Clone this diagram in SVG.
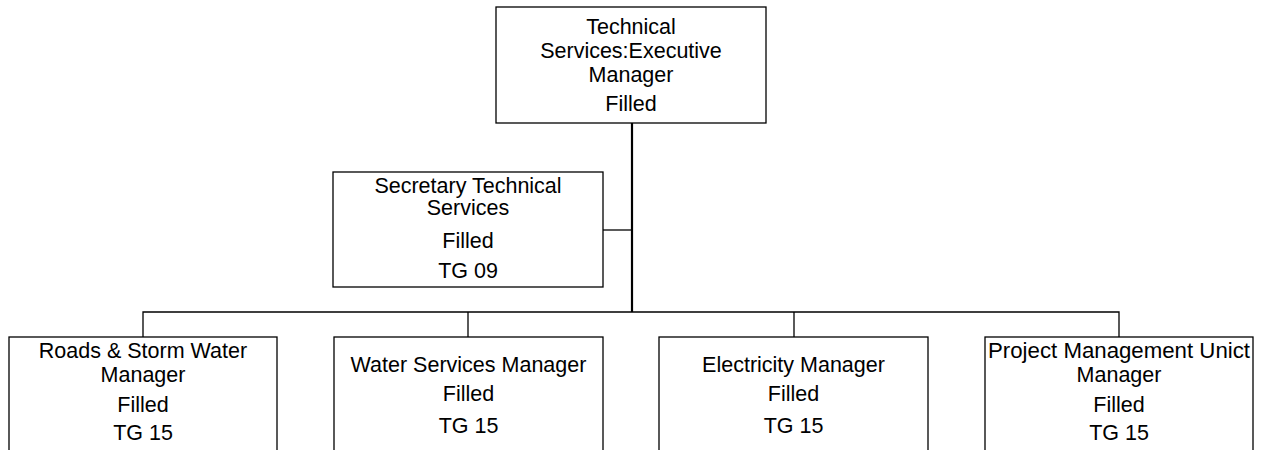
<svg xmlns="http://www.w3.org/2000/svg" width="1266" height="450" viewBox="0 0 1266 450">
<style>
.box{fill:#fff;stroke:#000;stroke-width:1.3}
text{font-family:"Liberation Sans",Arial,sans-serif;font-size:21.5px;fill:#000;text-anchor:middle}
.c{fill:none;stroke:#000;stroke-width:1.3}
.main{fill:none;stroke:#000;stroke-width:2.2}
</style>
<rect width="1266" height="450" fill="#fff"/>
<g id="connectors">
<path class="main" d="M632 123V312"/>
<path class="c" d="M603 230H632"/>
<path class="c" d="M143 337V312H1119V337"/>
<path class="c" d="M468 312V337"/>
<path class="c" d="M794 312V337"/>
</g>
<g id="exec">
<rect class="box" x="496" y="7" width="270" height="116"/>
<text x="631" y="34">Technical</text>
<text x="631" y="58">Services:Executive</text>
<text x="631" y="82">Manager</text>
<text x="631" y="111">Filled</text>
</g>
<g id="secretary">
<rect class="box" x="333" y="172" width="270" height="115"/>
<text x="468" y="193">Secretary Technical</text>
<text x="468" y="215">Services</text>
<text x="468" y="248">Filled</text>
<text x="468" y="278">TG 09</text>
</g>
<g id="roads">
<rect class="box" x="9" y="337" width="268" height="130"/>
<text x="143" y="358">Roads &amp; Storm Water</text>
<text x="143" y="382">Manager</text>
<text x="143" y="412">Filled</text>
<text x="143" y="440">TG 15</text>
</g>
<g id="water">
<rect class="box" x="334" y="337" width="269" height="130"/>
<text x="468.5" y="372">Water Services Manager</text>
<text x="468.5" y="401">Filled</text>
<text x="468.5" y="433">TG 15</text>
</g>
<g id="electricity">
<rect class="box" x="659" y="337" width="269" height="130"/>
<text x="793.5" y="372">Electricity Manager</text>
<text x="793.5" y="401">Filled</text>
<text x="793.5" y="433">TG 15</text>
</g>
<g id="pmu">
<rect class="box" x="985" y="337" width="268" height="130"/>
<text x="1119" y="358" textLength="262" lengthAdjust="spacingAndGlyphs">Project Management Unict</text>
<text x="1119" y="382">Manager</text>
<text x="1119" y="412">Filled</text>
<text x="1119" y="440">TG 15</text>
</g>
</svg>
